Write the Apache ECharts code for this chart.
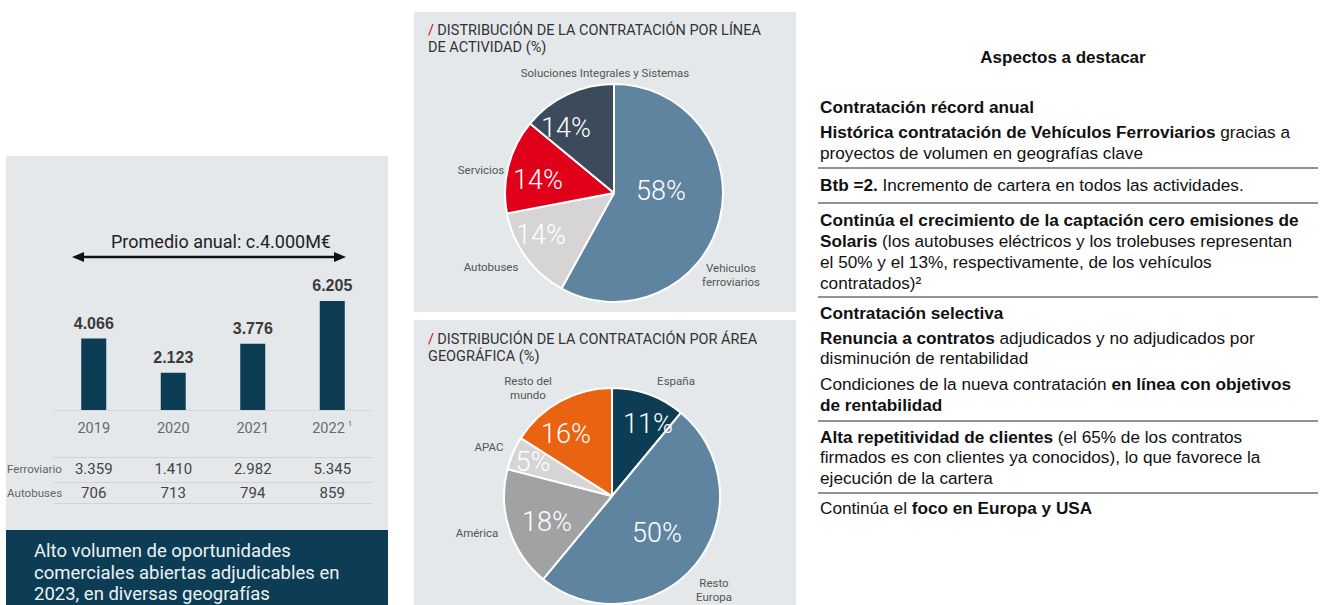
<!DOCTYPE html>
<html>
<head>
<meta charset="utf-8">
<script src="https://cdn.jsdelivr.net/npm/echarts@6/dist/echarts.min.js"></script>
<style>
html, body { margin: 0; padding: 0; background: #fff; }
#chart { width: 1323px; height: 605px; }
</style>
</head>
<body>
<div id="chart"></div>
<script>
// contratación anual (M€)
var years = ['2019', '2020', '2021', '2022'];
var yearNotes = ['', '', '', '1'];
var totals = [4066, 2123, 3776, 6205];
var ferroviario = [3359, 1410, 2982, 5345];
var autobuses = [706, 713, 794, 859];
var rowNames = ['Ferroviario', 'Autobuses'];
var averageText = 'Promedio anual: c.4.000M€';
var boxText = ['Alto volumen de oportunidades', 'comerciales abiertas adjudicables en', '2023, en diversas geografías'];

// distribución por línea de actividad (%)
var actividadTitle = ['DISTRIBUCIÓN DE LA CONTRATACIÓN POR LÍNEA', 'DE ACTIVIDAD (%)'];
var actividadNames = ['Vehiculos\nferroviarios', 'Autobuses', 'Servicios', 'Soluciones Integrales y Sistemas'];
var actividadValues = [58, 14, 14, 14];

// distribución por área geográfica (%)
var areaTitle = ['DISTRIBUCIÓN DE LA CONTRATACIÓN POR ÁREA', 'GEOGRÁFICA (%)'];
var areaNames = ['España', 'Resto\nEuropa', 'América', 'APAC', 'Resto del\nmundo'];
var areaValues = [11, 50, 18, 5, 16];

// aspectos a destacar: b = negrita, r = normal
var highlightsTitle = 'Aspectos a destacar';
var highlights = [
    [['b', 'Contratación récord anual']],
    [['b', 'Histórica contratación de Vehículos Ferroviarios'], ['r', ' gracias a']],
    [['r', 'proyectos de volumen en geografías clave']],
    [['b', 'Btb =2.'], ['r', ' Incremento de cartera en todos las actividades.']],
    [['b', 'Continúa el crecimiento de la captación cero emisiones de']],
    [['b', 'Solaris'], ['r', ' (los autobuses eléctricos y los trolebuses representan']],
    [['r', 'el 50% y el 13%, respectivamente, de los vehículos']],
    [['r', 'contratados)²']],
    [['b', 'Contratación selectiva']],
    [['b', 'Renuncia a contratos'], ['r', ' adjudicados y no adjudicados por']],
    [['r', 'disminución de rentabilidad']],
    [['r', 'Condiciones de la nueva contratación '], ['b', 'en línea con objetivos']],
    [['b', 'de rentabilidad']],
    [['b', 'Alta repetitividad de clientes'], ['r', ' (el 65% de los contratos']],
    [['r', 'firmados es con clientes ya conocidos), lo que favorece la']],
    [['r', 'ejecución de la cartera']],
    [['r', 'Continúa el '], ['b', 'foco en Europa y USA']]
];

// layout
var highlightY = [107, 132, 153, 185, 220, 241, 262, 283, 313, 338, 358, 384, 405, 437, 457, 478, 508];
var ruleY = [168, 203, 297, 421, 493];
var actividadInner = [[661, 191], [541, 235], [538, 180], [566, 128]];
var actividadOuter = [[731, 275], [491, 267], [481, 170], [605, 73]];
var areaInner = [[648, 424], [657, 533], [547, 522], [533, 462], [566, 434]];
var areaOuter = [[676, 381], [714, 590], [477, 533], [489, 447], [528, 388]];

var actividadColors = ['#5f84a0', '#d6d4d4', '#e1001a', '#3b4b5c'];
var areaColors = ['#0c3d55', '#5f84a0', '#a1a2a4', '#d6d4d4', '#ea6310'];

var sans = 'Roboto';
var arial = 'Liberation Sans';
var panelColor = '#e4e8ea';
var navy = '#0c3d55';

function fmt(v) {
    if (v < 1000) return String(v);
    return Math.floor(v / 1000) + '.' + String(v % 1000).padStart(3, '0');
}

function pieData(names, values, colors) {
    return values.map(function (v, i) {
        return { name: names[i], value: v, itemStyle: { color: colors[i] } };
    });
}

function placeAt(points) {
    return function (params) {
        var p = points[params.dataIndex];
        return { x: p[0], y: p[1], align: 'center', verticalAlign: 'middle' };
    };
}

function pieSeries(center, radius, names, values, colors, inner, outer) {
    return [
        {
            type: 'pie',
            center: center,
            radius: radius,
            startAngle: 90,
            clockwise: true,
            silent: true,
            itemStyle: { borderColor: '#fff', borderWidth: 2 },
            label: {
                show: true,
                position: 'inside',
                formatter: '{c}%',
                color: '#fff',
                fontFamily: sans,
                fontWeight: 300,
                fontSize: 27
            },
            labelLine: { show: false },
            labelLayout: placeAt(inner),
            data: pieData(names, values, colors)
        },
        {
            type: 'pie',
            center: center,
            radius: radius,
            startAngle: 90,
            clockwise: true,
            silent: true,
            itemStyle: { color: 'rgba(0,0,0,0)', borderWidth: 0 },
            label: {
                show: true,
                position: 'outside',
                formatter: '{b}',
                color: '#555',
                fontFamily: sans,
                fontSize: 11.5,
                lineHeight: 14,
                align: 'center'
            },
            labelLine: { show: false },
            labelLayout: placeAt(outer),
            data: values.map(function (v, i) {
                return { name: names[i], value: v, itemStyle: { color: 'rgba(0,0,0,0)' } };
            })
        }
    ];
}

function titleText(lines, top) {
    return lines.map(function (t, i) {
        return {
            type: 'text',
            x: 428,
            y: top + i * 17,
            style: {
                text: i === 0 ? '{s|/} {t|' + t + '}' : '{t|' + t + '}',
                verticalAlign: 'middle',
                rich: {
                    s: { fill: '#e3001b', fontFamily: sans, fontSize: 14.5 },
                    t: { fill: '#333', fontFamily: sans, fontSize: 14.5 }
                }
            }
        };
    });
}

var graphics = [
    { type: 'rect', z: -10, shape: { x: 6, y: 156, width: 382, height: 374 }, style: { fill: panelColor } },
    { type: 'rect', z: -10, shape: { x: 6, y: 530, width: 382, height: 75 }, style: { fill: navy } },
    { type: 'rect', z: -10, shape: { x: 414, y: 12, width: 382, height: 300 }, style: { fill: panelColor } },
    { type: 'rect', z: -10, shape: { x: 414, y: 320, width: 382, height: 285 }, style: { fill: panelColor } },
    // flecha del promedio
    { type: 'line', shape: { x1: 80, y1: 257, x2: 338, y2: 257 }, style: { stroke: '#111', lineWidth: 2.5 } },
    { type: 'polygon', shape: { points: [[72, 257], [84, 252], [84, 262]] }, style: { fill: '#111' } },
    { type: 'polygon', shape: { points: [[346, 257], [334, 252], [334, 262]] }, style: { fill: '#111' } },
    {
        type: 'text', x: 221, y: 241,
        style: { text: averageText, fill: '#222', fontFamily: sans, fontSize: 18, align: 'center', verticalAlign: 'middle' }
    },
    {
        type: 'text', x: 1063, y: 57,
        style: { text: highlightsTitle, fill: '#111', fontFamily: arial, fontWeight: 'bold', fontSize: 17, align: 'center', verticalAlign: 'middle' }
    }
];

rowNames.forEach(function (n, i) {
    graphics.push({
        type: 'text', x: 7, y: 469 + i * 24,
        style: { text: n, fill: '#666', fontFamily: sans, fontSize: 11.6, verticalAlign: 'middle' }
    });
});

boxText.forEach(function (t, i) {
    graphics.push({
        type: 'text', x: 34, y: 551 + i * 21.5,
        style: { text: t, fill: '#eef2f4', fontFamily: sans, fontSize: 18.5, verticalAlign: 'middle' }
    });
});

graphics = graphics.concat(titleText(actividadTitle, 30), titleText(areaTitle, 339));

highlights.forEach(function (line, i) {
    graphics.push({
        type: 'text', x: 820, y: highlightY[i],
        style: {
            text: line.map(function (s) { return '{' + s[0] + '|' + s[1] + '}'; }).join(''),
            verticalAlign: 'middle',
            rich: {
                b: { fill: '#111', fontFamily: arial, fontWeight: 'bold', fontSize: 17.2 },
                r: { fill: '#111', fontFamily: arial, fontSize: 17.2 }
            }
        }
    });
});

ruleY.forEach(function (y) {
    graphics.push({ type: 'line', shape: { x1: 818, y1: y, x2: 1318, y2: y }, style: { stroke: '#6f6f6f', lineWidth: 1.5 } });
});

function tableAxis(offset, values, margin) {
    return {
        type: 'category',
        gridIndex: 0,
        data: years,
        position: 'bottom',
        offset: offset,
        axisLine: { show: true, lineStyle: { color: '#cfd3d6', width: 1 } },
        axisTick: { show: false },
        axisLabel: {
            show: values !== null,
            interval: 0,
            margin: margin,
            color: '#444',
            fontFamily: sans,
            fontSize: 15,
            formatter: function (v, i) { return values ? fmt(values[i]) : ''; }
        }
    };
}

var chart = echarts.init(document.getElementById('chart'), null, { renderer: 'svg' });
chart.setOption({
    animation: false,
    backgroundColor: '#fff',
    grid: { left: 54, width: 318, top: 287, height: 123 },
    xAxis: [
        {
            type: 'category',
            data: years,
            axisLine: { lineStyle: { color: '#d3d7da', width: 1 } },
            axisTick: { show: false },
            axisLabel: {
                interval: 0,
                margin: 9,
                formatter: function (v, i) {
                    return yearNotes[i] ? '{y|' + v + '}{s|' + yearNotes[i] + '}' : '{y|' + v + '}';
                },
                rich: {
                    y: { color: '#6a6a6a', fontFamily: sans, fontSize: 14.5, lineHeight: 18 },
                    s: { color: '#6a6a6a', fontFamily: sans, fontSize: 8, lineHeight: 18, verticalAlign: 'top', padding: [0, 0, 0, 3] }
                }
            }
        },
        tableAxis(47, ferroviario, 4),
        tableAxis(72, autobuses, 3),
        tableAxis(93, null, 0)
    ],
    yAxis: { type: 'value', min: 0, max: 7000, show: false },
    series: [
        {
            type: 'bar',
            data: totals,
            barWidth: 25,
            itemStyle: { color: navy },
            label: {
                show: true,
                position: 'top',
                distance: 7,
                formatter: function (p) { return fmt(p.value); },
                color: '#3a3a3a',
                fontFamily: arial,
                fontWeight: 'bold',
                fontSize: 16
            },
            silent: true
        }
    ].concat(
        pieSeries([614, 193], 109, actividadNames, actividadValues, actividadColors, actividadInner, actividadOuter),
        pieSeries([612, 496], 108, areaNames, areaValues, areaColors, areaInner, areaOuter)
    ),
    graphic: graphics
});
</script>
</body>
</html>
